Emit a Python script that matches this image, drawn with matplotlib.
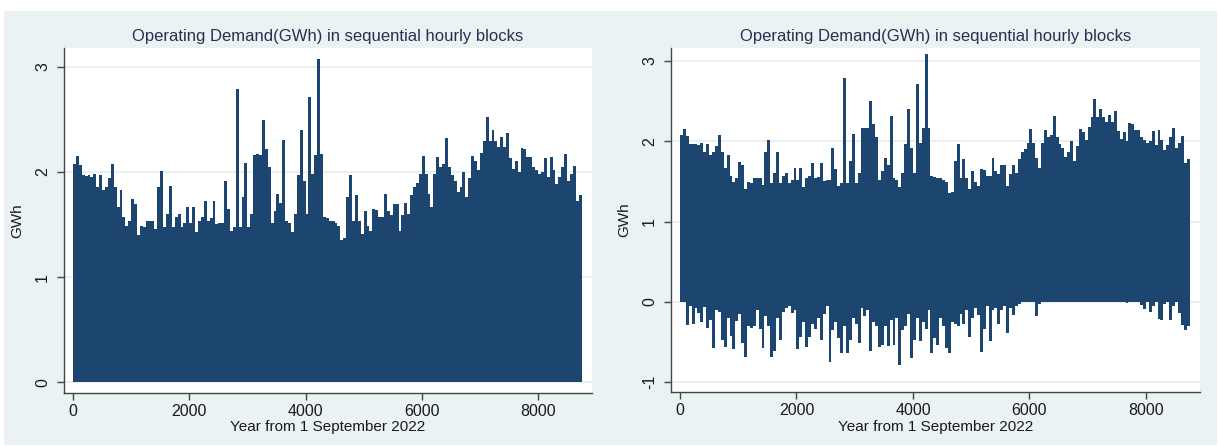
"""
Operating demand (GWh) in sequential hourly blocks, two Stata-style panels.

Values are the per-50-hour envelope of the hourly series read off the
reference picture (upper = block max, lower = block min).
"""

import matplotlib
matplotlib.use("Agg")
import matplotlib.pyplot as plt
from matplotlib.patches import Rectangle

plt.rcParams["font.family"] = ["Liberation Sans", "DejaVu Sans"]

NAVY = "#1c4670"
BG = "#eaf2f3"
GRID = "#e6eef0"
TITLE_COLOR = "#26304f"
TEXT = "#1a1a1a"

TITLE = "Operating Demand(GWh) in sequential hourly blocks"
XLABEL = "Year from 1 September 2022"
YLABEL = "GWh"

BLOCK = 50          # hours per block
LAST_HOUR = 8760

# block max, hours 0, 50, 100, ... 8750
demand_max = [
    2.08, 2.15, 2.07, 1.97, 1.96, 1.97, 1.95, 1.98, 1.86, 1.97,
    1.83, 1.86, 1.94, 2.08, 1.86, 1.67, 1.83, 1.57, 1.49, 1.54,
    1.74, 1.70, 1.40, 1.49, 1.48, 1.54, 1.54, 1.54, 1.46, 1.86,
    2.01, 1.48, 1.60, 1.87, 1.48, 1.57, 1.60, 1.48, 1.52, 1.67,
    1.52, 1.67, 1.43, 1.54, 1.57, 1.73, 1.54, 1.56, 1.73, 1.51,
    1.52, 1.52, 1.92, 1.65, 1.44, 1.48, 2.79, 1.48, 1.76, 2.09,
    1.48, 1.60, 2.16, 2.17, 2.16, 2.50, 2.22, 2.05, 1.52, 1.63,
    1.79, 1.71, 2.31, 1.54, 1.52, 1.43, 1.60, 1.97, 2.40, 1.92,
    1.60, 2.71, 1.98, 2.16, 3.08, 2.17, 1.57, 1.56, 1.54, 1.54,
    1.52, 1.49, 1.35, 1.37, 1.76, 1.97, 1.54, 1.78, 1.54, 1.41,
    1.63, 1.49, 1.44, 1.65, 1.64, 1.57, 1.57, 1.79, 1.63, 1.59,
    1.70, 1.70, 1.44, 1.59, 1.71, 1.60, 1.78, 1.86, 1.90, 1.98,
    2.15, 1.98, 1.79, 1.67, 1.98, 2.14, 2.05, 2.08, 2.32, 2.05,
    1.97, 1.92, 1.81, 1.86, 2.00, 1.76, 1.94, 2.15, 2.11, 2.02,
    2.18, 2.30, 2.52, 2.30, 2.40, 2.30, 2.24, 2.33, 2.24, 2.37,
    2.13, 2.03, 2.11, 2.00, 2.23, 2.22, 2.14, 2.14, 2.05, 2.02,
    1.98, 2.00, 2.13, 1.95, 2.14, 2.02, 1.89, 1.95, 2.05, 2.17,
    1.92, 1.98, 2.06, 1.73, 1.78, 1.89,
]

# block min (negative demand only shows in the right panel)
demand_min = [
    0.00, 0.00, -0.29, -0.05, -0.27, -0.08, -0.14, -0.25, -0.06, -0.32,
    -0.23, -0.57, -0.10, -0.12, -0.47, -0.56, -0.20, -0.42, -0.58, -0.24,
    -0.15, -0.51, -0.68, -0.30, -0.32, -0.30, -0.10, -0.34, -0.57, -0.18,
    -0.30, -0.69, -0.61, -0.20, -0.47, -0.12, -0.08, -0.05, -0.14, -0.10,
    -0.59, -0.43, -0.25, -0.56, -0.43, -0.28, -0.34, -0.20, -0.47, -0.15,
    -0.05, -0.75, -0.35, -0.25, -0.45, -0.63, -0.30, -0.63, -0.47, -0.20,
    -0.28, -0.51, -0.08, -0.18, -0.10, -0.61, -0.25, -0.30, -0.56, -0.54,
    -0.30, -0.55, -0.22, -0.53, -0.20, -0.78, -0.35, -0.30, -0.15, -0.70,
    -0.47, -0.20, -0.49, -0.25, -0.34, -0.10, -0.63, -0.45, -0.53, -0.20,
    -0.30, -0.57, -0.63, -0.25, -0.28, -0.30, -0.15, -0.28, -0.10, -0.44,
    -0.20, -0.08, -0.16, -0.62, -0.34, -0.05, -0.49, -0.10, -0.08, -0.28,
    -0.10, -0.05, -0.39, -0.08, -0.16, -0.05, -0.03, 0.00, 0.00, 0.00,
    0.00, 0.00, -0.18, -0.02, 0.00, 0.00, 0.00, 0.00, 0.00, 0.00,
    0.00, 0.00, 0.00, 0.00, 0.00, 0.00, 0.00, 0.00, 0.00, 0.00,
    0.00, 0.00, 0.00, 0.00, 0.00, 0.00, 0.00, 0.00, 0.00, 0.00,
    0.00, 0.00, 0.00, -0.01, 0.00, 0.00, 0.00, 0.00, -0.04, -0.09,
    0.00, -0.12, -0.05, 0.00, -0.21, -0.22, -0.03, 0.00, -0.23, -0.05,
    0.00, -0.14, -0.29, -0.35, -0.30, -0.05,
]

XTICKS = [0, 2000, 4000, 6000, 8000]


def _steps(vals):
    x = [i * BLOCK for i in range(len(vals))] + [LAST_HOUR]
    y = list(vals) + [vals[-1]]
    return x, y


def _style(ax, yticks, ylim, ylabel_pad):
    ax.set_facecolor("white")
    ax.set_xlim(-155, 8929)
    ax.set_ylim(*ylim)
    ax.set_xticks(XTICKS)
    ax.set_yticks(yticks)
    ax.set_yticklabels([str(t) for t in yticks], rotation=90, va="center")
    ax.grid(True, axis="y", color=GRID, linewidth=1.2)
    ax.set_axisbelow(True)
    for s in ("top", "right"):
        ax.spines[s].set_visible(False)
    for s in ("left", "bottom"):
        ax.spines[s].set_color("#444444")
        ax.spines[s].set_linewidth(1.0)
    ax.tick_params(axis="both", length=5, width=1.0, color="#444444",
                   labelsize=11.5, labelcolor=TEXT)
    ax.tick_params(axis="x", pad=3)
    ax.tick_params(axis="y", pad=5)
    ax.set_title(TITLE, fontsize=12, color=TITLE_COLOR, pad=5)
    ax.set_xlabel(XLABEL, fontsize=11, color=TEXT, labelpad=1)
    ax.set_ylabel(YLABEL, fontsize=11, color=TEXT, labelpad=ylabel_pad)


fig = plt.figure(figsize=(12.19, 4.46), dpi=100)
fig.patch.set_facecolor("white")
fig.add_artist(Rectangle((4 / 1219, 1 / 446), 1213 / 1219, 434 / 446,
                         transform=fig.transFigure, facecolor=BG,
                         edgecolor="none", zorder=-10))

# left: demand from zero up
ax1 = fig.add_axes([64 / 1219, 53 / 446, 528 / 1219, 345 / 446])
x, hi = _steps(demand_max)
ax1.fill_between(x, 0, hi, step="post", color=NAVY, linewidth=0)
_style(ax1, [0, 1, 2, 3], (-0.10, 3.18), 8)

# right: full range including negative hours
ax2 = fig.add_axes([671 / 1219, 54 / 446, 529 / 1219, 344 / 446])
_, lo = _steps(demand_min)
ax2.fill_between(x, lo, hi, step="post", color=NAVY, linewidth=0)
_style(ax2, [-1, 0, 1, 2, 3], (-1.12, 3.16), 8)

fig.savefig("out.png", dpi=100, facecolor=fig.get_facecolor())
